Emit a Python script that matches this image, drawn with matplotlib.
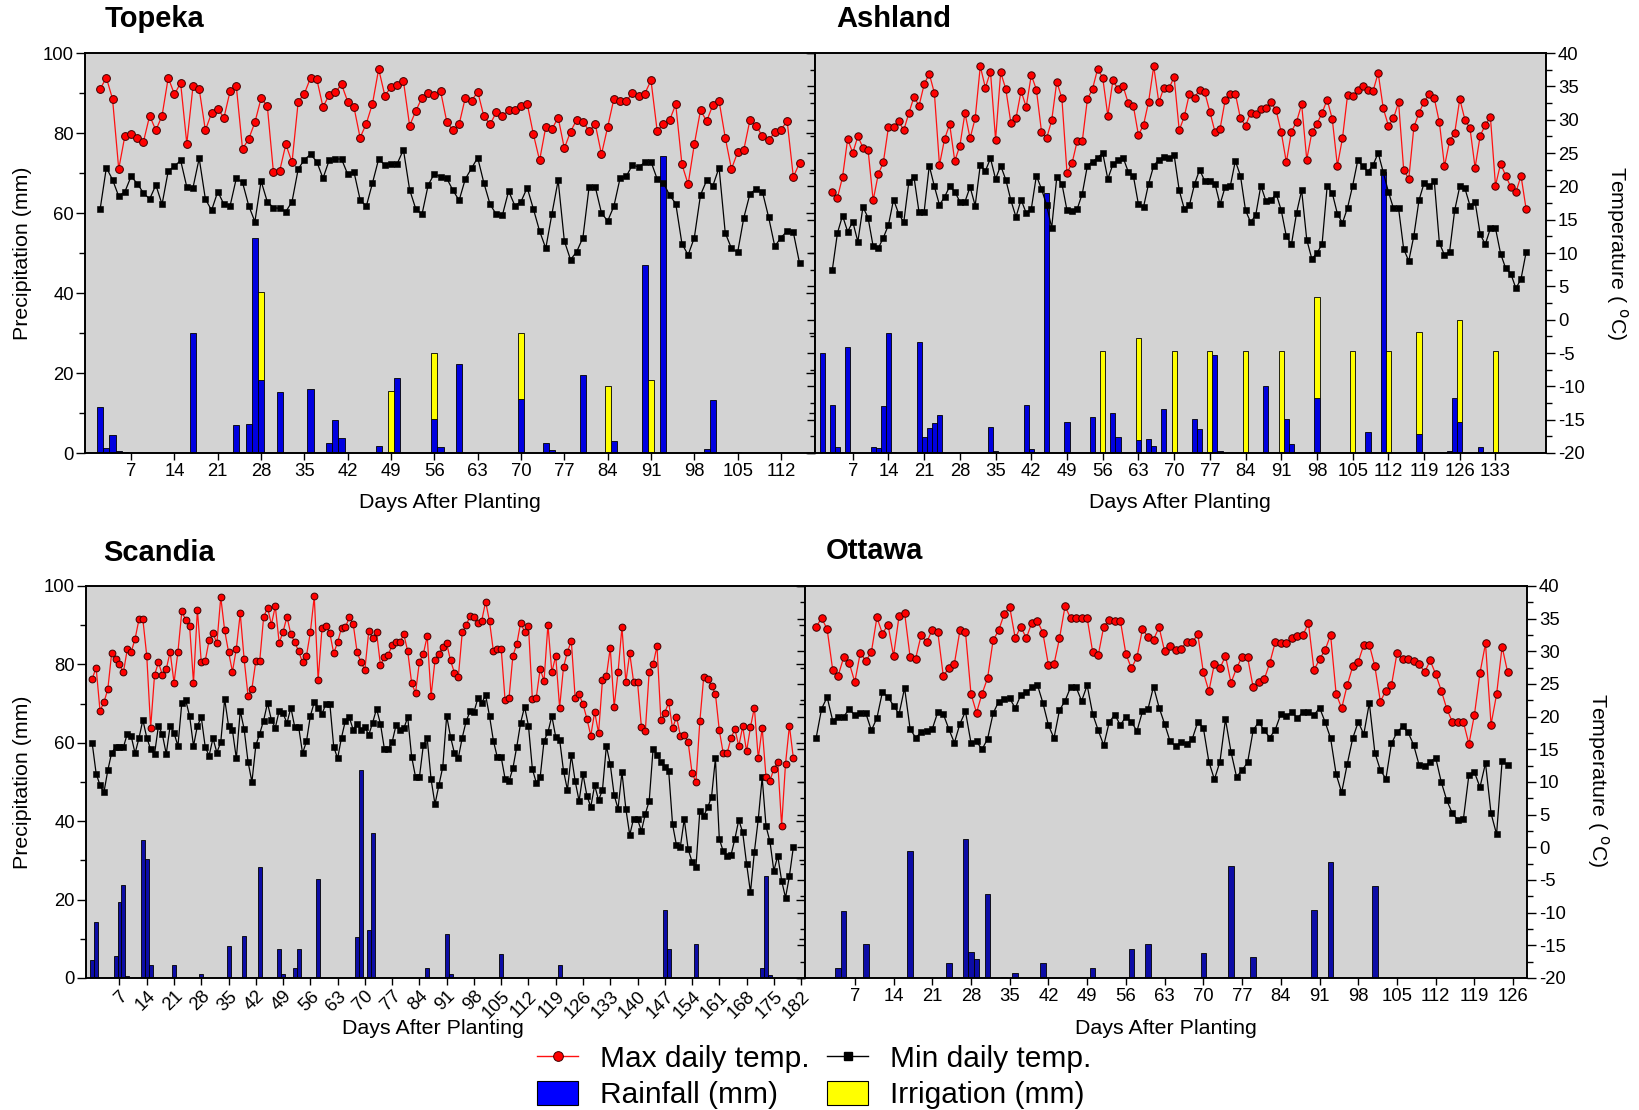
import numpy as np
import matplotlib
matplotlib.use("Agg")
import matplotlib.pyplot as plt
from matplotlib.lines import Line2D
from matplotlib.patches import Patch
from matplotlib.ticker import MultipleLocator

plt.rcParams['font.family'] = ['Liberation Sans', 'DejaVu Sans']
plt.rcParams['axes.unicode_minus'] = False

# ---------------- Topeka ----------------
topeka_days = np.arange(2, 116)
topeka_tmax = [34.6, 36.3, 33.1, 22.6, 27.6, 27.8, 27.2, 26.7, 30.6, 28.4, 30.6, 36.3, 33.8, 35.5, 26.4,
               35.0, 34.6, 28.4, 31.0, 31.6, 30.3, 34.3, 35.0, 25.6, 27.1, 29.6, 33.2, 32.1, 22.1, 22.3,
               26.3, 23.6, 32.7, 33.9, 36.3, 36.1, 31.9, 33.7, 34.1, 35.3, 32.7, 31.9, 27.3, 29.4, 32.4,
               37.6, 33.6, 34.9, 35.2, 35.8, 29.1, 31.3, 33.3, 34.0, 33.7, 34.3, 29.7, 28.4, 29.3, 33.3,
               32.8, 34.2, 30.5, 29.3, 31.1, 30.6, 31.4, 31.4, 32.0, 32.4, 27.8, 23.9, 28.9, 28.6, 30.3,
               25.7, 28.2, 30.0, 29.7, 28.3, 29.3, 24.8, 28.9, 33.1, 32.8, 32.8, 34.0, 33.6, 33.9, 35.9,
               28.3, 29.4, 29.9, 32.3, 23.3, 20.3, 26.3, 31.4, 29.8, 32.2, 32.8, 27.3, 22.6, 25.1, 25.5,
               30.0, 29.1, 27.5, 26.9, 28.1, 28.5, 29.8, 21.4, 23.5]
topeka_tmin = [16.6, 22.8, 21.0, 18.5, 19.2, 21.5, 20.4, 19.0, 18.1, 20.2, 17.3, 22.3, 23.0, 23.9, 19.9,
               19.8, 24.2, 18.1, 16.4, 19.2, 17.3, 17.1, 21.2, 20.6, 17.1, 14.7, 20.8, 17.7, 16.8, 16.7,
               16.2, 17.7, 22.6, 24.0, 24.8, 23.7, 21.2, 23.9, 24.1, 24.1, 21.8, 22.2, 18.0, 17.0, 20.5,
               24.1, 23.2, 23.4, 23.4, 25.5, 19.5, 16.6, 15.8, 20.2, 21.9, 21.4, 21.2, 19.4, 17.9, 21.1,
               22.7, 24.3, 20.5, 17.3, 15.8, 15.7, 19.3, 17.1, 17.7, 19.8, 16.6, 13.3, 10.7, 15.9, 20.9,
               11.8, 9.0, 10.2, 12.3, 19.9, 19.9, 16.0, 14.8, 17.0, 21.2, 21.5, 23.2, 22.9, 23.6, 23.7,
               21.1, 20.5, 18.7, 17.4, 11.4, 9.7, 12.3, 18.7, 20.9, 20.1, 22.8, 13.0, 10.7, 10.1, 15.3,
               18.9, 19.6, 19.2, 15.4, 11.0, 12.3, 13.3, 13.1, 8.5]
topeka_rain_day = [2, 3, 4, 5, 6, 17, 24, 26, 27, 28, 31, 36, 39, 40, 41, 47, 50, 56, 57, 60,
                   70, 74, 75, 80, 85, 90, 93, 100, 101, 105]
topeka_rain = [11.6, 1.2, 4.5, 0.6, 0.3, 29.9, 7.0, 7.3, 53.8, 18.3, 15.2, 16.0, 2.6, 8.3, 3.8, 1.8,
               18.8, 8.4, 1.5, 22.2, 13.4, 2.6, 0.7, 19.5, 3.0, 47.0, 74.3, 1.1, 13.3, 0.3]
topeka_irr_day = [28, 49, 56, 70, 84, 91]
topeka_irr = [22.0, 15.5, 16.7, 16.7, 16.8, 18.3]

# ---------------- Ashland ----------------
ashland_days = np.arange(3, 140)
ashland_tmax = [19.1, 18.3, 21.4, 27.1, 25.0, 27.5, 25.8, 25.5, 17.9, 21.8, 23.6, 28.9, 28.9, 29.8, 28.4,
                31.0, 33.4, 32.1, 35.3, 36.9, 34.0, 23.2, 27.1, 29.3, 23.8, 26.1, 31.0, 27.2, 30.2, 38.0,
                34.8, 37.2, 27.0, 37.1, 34.6, 29.5, 30.2, 34.3, 31.9, 36.7, 34.5, 28.2, 27.2, 29.9, 35.7,
                33.2, 22.0, 23.5, 26.8, 26.8, 33.1, 34.6, 37.6, 36.3, 30.6, 35.9, 34.6, 35.0, 32.5, 32.1,
                27.7, 29.2, 32.7, 38.0, 32.6, 34.8, 34.7, 36.4, 28.4, 30.5, 33.9, 33.3, 34.5, 34.1, 31.2,
                28.2, 28.6, 32.9, 33.9, 33.9, 30.2, 29.1, 31.0, 30.9, 31.6, 31.7, 32.6, 31.4, 28.1, 23.6,
                28.2, 29.7, 32.3, 24.0, 28.1, 29.4, 31.0, 33.0, 30.1, 23.1, 27.2, 33.7, 33.5, 34.5, 35.1,
                34.5, 34.3, 37.0, 31.7, 29.1, 30.2, 32.6, 22.5, 21.1, 28.9, 31.0, 32.7, 33.8, 33.2, 29.6,
                23.0, 26.8, 28.0, 33.1, 30.0, 28.7, 22.8, 27.6, 29.2, 30.4, 20.1, 23.4, 21.6, 19.9, 19.1,
                21.6, 16.6]
ashland_tmin = [7.5, 13.0, 15.6, 13.2, 14.7, 11.7, 16.9, 15.3, 11.0, 10.7, 12.3, 14.2, 18.0, 15.9, 14.6,
                20.7, 21.4, 16.1, 16.2, 23.1, 20.0, 17.2, 18.4, 20.0, 19.2, 17.7, 17.7, 19.9, 17.1, 23.2,
                22.3, 24.2, 21.1, 23.1, 21.0, 17.9, 15.4, 18.0, 16.0, 16.6, 21.6, 19.6, 17.2, 13.8, 21.4,
                20.4, 16.4, 16.3, 16.6, 18.9, 23.1, 23.7, 24.3, 25.0, 21.1, 23.3, 23.9, 24.3, 22.2, 21.6,
                17.3, 16.9, 20.4, 23.1, 24.0, 24.4, 24.2, 24.7, 19.4, 16.6, 17.2, 20.3, 22.5, 20.8, 20.8,
                20.4, 17.3, 19.9, 20.0, 23.8, 21.6, 16.4, 14.6, 15.7, 20.1, 17.8, 17.9, 18.9, 16.4, 12.5,
                11.3, 16.0, 19.4, 12.0, 9.1, 10.0, 11.3, 20.0, 19.0, 15.9, 14.5, 16.8, 20.1, 23.9, 23.0,
                22.2, 23.2, 25.0, 22.1, 19.2, 16.7, 16.7, 10.6, 8.8, 12.6, 17.9, 20.5, 20.0, 20.8, 11.5,
                9.7, 10.2, 16.4, 20.0, 19.7, 17.1, 17.7, 12.8, 11.3, 13.7, 13.7, 9.9, 7.7, 6.9, 4.7,
                6.1, 10.1]
ashland_rain_day = [1, 2, 3, 4, 6, 7, 11, 12, 13, 14, 15, 20, 21, 22, 23, 24, 34, 35, 41, 42,
                    45, 49, 54, 58, 59, 63, 65, 66, 68, 74, 75, 78, 79, 88, 92, 93, 97, 98, 108, 111,
                    118, 124, 125, 126, 130]
ashland_rain = [24.9, 0.3, 12.0, 1.4, 26.4, 0.3, 1.4, 1.3, 11.8, 29.9, 0.3, 27.7, 4.1, 6.2, 7.6, 9.4,
                6.6, 0.6, 12.0, 1.1, 65.1, 7.7, 9.0, 9.9, 4.1, 3.3, 3.6, 1.8, 10.9, 8.5, 6.0, 24.5,
                0.5, 16.8, 8.5, 2.3, 0.2, 13.7, 5.3, 70.3, 4.8, 0.6, 13.7, 7.8, 1.4]
ashland_irr_day = [56, 63, 70, 77, 84, 91, 98, 105, 112, 118, 126, 133]
ashland_irr = [25.4, 25.4, 25.4, 25.4, 25.4, 25.4, 25.4, 25.4, 25.4, 25.4, 25.4, 25.4]

# ---------------- Scandia ----------------
scandia_days = np.arange(0, 181)
scandia_tmax = [25.8, 27.5, 20.9, 22.2, 24.2, 29.8, 28.9, 28.0, 26.8, 30.3, 29.9, 31.9, 34.9, 34.9, 29.3,
                18.3, 26.4, 28.3, 26.4, 27.3, 29.9, 25.2, 29.9, 36.1, 34.8, 33.9, 25.2, 36.4, 28.3, 28.5,
                31.7, 32.8, 31.2, 38.3, 33.2, 29.9, 26.9, 30.4, 35.8, 28.8, 23.2, 24.3, 28.5, 28.5, 35.2,
                36.7, 34.1, 36.9, 31.3, 33.0, 35.3, 32.6, 31.4, 30.0, 28.3, 29.3, 32.9, 38.4, 25.6, 33.6,
                33.9, 32.8, 29.7, 31.4, 33.6, 33.7, 35.2, 34.2, 29.9, 28.3, 27.2, 33.1, 32.0, 32.9, 27.9,
                29.1, 29.5, 30.9, 31.4, 31.4, 32.6, 30.0, 25.2, 23.6, 28.4, 29.6, 32.3, 23.2, 28.6, 29.6,
                30.7, 31.2, 28.6, 26.7, 26.1, 32.9, 34.0, 35.4, 35.3, 34.3, 34.7, 37.6, 34.6, 30.0, 30.4,
                30.4, 22.5, 22.8, 29.3, 31.1, 34.4, 33.0, 33.9, 22.7, 22.9, 27.3, 25.5, 34.1, 26.8, 29.3,
                21.4, 27.6, 29.9, 31.6, 22.8, 23.4, 21.9, 19.7, 17.1, 20.7, 17.5, 25.6, 26.2, 30.5, 21.5,
                26.8, 33.7, 25.3, 29.7, 25.3, 25.3, 18.4, 17.8, 26.9, 28.0, 30.8, 19.5, 20.6, 22.2, 18.2,
                20.0, 17.1, 17.2, 16.1, 11.4, 10.0, 19.3, 26.1, 25.8, 24.7, 23.5, 17.9, 14.4, 14.4, 16.7,
                18.1, 15.5, 18.5, 14.7, 18.4, 21.4, 13.6, 18.3, 10.7, 10.2, 12.0, 13.1, 3.3, 12.8, 18.6,
                13.7]
scandia_tmin = [15.9, 11.3, 9.5, 8.4, 11.8, 14.5, 15.3, 15.3, 15.3, 17.4, 17.0, 14.4, 16.7, 19.5, 16.8,
                15.0, 14.3, 18.6, 17.3, 14.3, 18.6, 17.5, 15.5, 22.1, 22.5, 20.1, 15.5, 18.6, 19.9, 15.4,
                14.0, 16.7, 14.5, 16.1, 22.7, 18.6, 17.9, 13.6, 20.9, 18.1, 13.1, 10.0, 15.6, 17.4, 19.4,
                22.1, 19.5, 18.3, 20.9, 20.5, 19.0, 21.4, 18.4, 18.4, 14.4, 16.2, 20.1, 22.2, 21.4, 20.4,
                22.0, 22.0, 15.4, 13.6, 16.8, 19.4, 19.9, 18.0, 18.9, 18.0, 18.4, 17.2, 19.1, 21.2, 18.9,
                15.1, 15.1, 16.1, 18.7, 17.9, 18.2, 19.9, 13.9, 10.8, 10.7, 15.6, 16.7, 10.4, 6.6, 9.5,
                12.3, 20.1, 16.9, 14.4, 13.7, 16.8, 19.3, 20.8, 20.7, 22.8, 22.1, 23.3, 20.1, 16.3, 13.8,
                13.8, 10.5, 10.1, 12.1, 15.4, 19.1, 21.5, 18.6, 12.0, 9.9, 10.7, 16.3, 17.6, 20.1, 16.9,
                16.5, 11.7, 8.8, 14.1, 10.1, 7.1, 11.2, 7.9, 6.2, 9.5, 7.2, 8.8, 15.5, 12.7, 8.0,
                5.9, 11.5, 5.9, 1.9, 4.4, 4.3, 2.5, 5.1, 7.1, 15.1, 14.1, 13.1, 12.3, 11.7, 3.5,
                0.3, 0.1, 4.3, -0.3, -2.2, -3.0, 5.6, 4.8, 6.1, 7.7, 13.6, 1.3, -0.6, -1.3, -1.2,
                1.3, 4.2, 2.3, -2.5, -6.9, -0.7, 4.3, 10.7, 3.2, 0.9, -3.6, -1.3, -5.1, -7.7, -4.4,
                0.0]
scandia_rain_day = [0, 1, 6, 7, 8, 9, 13, 14, 15, 21, 28, 35, 39, 43, 48, 49, 52, 53, 58, 68,
                    69, 71, 72, 86, 91, 92, 105, 120, 147, 148, 155, 172, 173, 174]
scandia_rain = [4.7, 14.4, 5.5, 19.4, 23.8, 0.5, 35.1, 30.3, 3.4, 3.2, 1.1, 8.1, 10.8, 28.3, 7.4, 1.1,
                2.5, 7.4, 25.2, 10.5, 53.0, 12.2, 37.1, 2.5, 11.1, 1.0, 6.0, 3.3, 17.3, 7.4, 8.7, 2.5,
                26.1, 0.8]
scandia_irr_day = []
scandia_irr = []

# ---------------- Ottawa ----------------
ottawa_days = np.arange(0, 126)
ottawa_tmax = [33.7, 35.1, 33.4, 27.2, 26.3, 29.1, 28.2, 25.3, 29.8, 28.5, 29.9, 35.2, 32.7, 34.1, 29.3,
               35.4, 35.9, 29.1, 28.9, 32.5, 31.4, 33.3, 33.0, 26.2, 27.5, 28.1, 33.2, 33.0, 23.5, 20.6,
               23.5, 25.9, 31.7, 33.2, 35.7, 36.8, 32.0, 33.8, 32.0, 34.4, 34.7, 32.8, 27.9, 28.0, 32.0,
               36.9, 35.1, 35.1, 35.1, 35.1, 29.9, 29.4, 33.8, 34.8, 34.6, 34.7, 29.6, 27.4, 29.1, 33.4,
               32.2, 31.8, 33.7, 30.0, 30.8, 30.2, 30.4, 31.5, 31.4, 32.6, 26.8, 23.9, 28.1, 27.4, 29.3,
               25.2, 27.4, 29.2, 29.1, 24.5, 25.3, 25.7, 28.2, 31.4, 31.2, 31.2, 32.0, 32.4, 32.5, 34.3,
               27.1, 28.8, 30.2, 32.5, 23.5, 21.3, 24.8, 27.7, 28.4, 31.0, 31.0, 27.7, 22.3, 24.0, 24.8,
               29.7, 28.8, 28.8, 28.5, 28.1, 26.8, 28.6, 26.5, 24.0, 21.2, 19.2, 19.2, 19.2, 15.8, 20.3,
               26.7, 31.2, 18.8, 23.4, 30.7, 26.8]
ottawa_tmin = [16.7, 21.2, 23.0, 19.4, 20.0, 20.0, 21.2, 20.2, 20.6, 20.5, 17.9, 19.8, 23.8, 23.0, 21.7,
               20.4, 24.4, 18.1, 16.8, 17.6, 17.8, 18.1, 20.7, 20.4, 18.1, 16.0, 18.9, 20.8, 16.0, 16.2,
               15.0, 16.6, 20.5, 22.3, 22.7, 22.8, 21.3, 23.3, 23.7, 24.5, 24.9, 22.1, 18.7, 16.7, 21.0,
               22.4, 24.5, 24.5, 22.4, 24.8, 20.4, 17.9, 15.6, 19.2, 20.3, 18.7, 20.0, 19.2, 17.8, 20.8,
               21.2, 24.6, 21.4, 18.9, 16.2, 15.5, 16.1, 15.8, 16.6, 19.2, 18.3, 13.1, 10.4, 13.1, 19.6,
               14.6, 10.8, 11.8, 13.0, 17.9, 19.2, 17.9, 16.8, 18.0, 20.4, 20.1, 20.7, 19.8, 20.7, 20.7,
               20.2, 21.4, 19.2, 16.7, 11.2, 8.4, 12.7, 16.7, 19.2, 17.3, 22.1, 14.5, 11.8, 10.5, 15.9,
               17.6, 18.5, 17.6, 15.7, 12.6, 12.4, 13.1, 13.7, 10.0, 7.2, 5.2, 4.2, 4.3, 11.1, 11.5,
               9.2, 12.9, 5.2, 2.0, 13.2, 12.6]
ottawa_rain_day = [4, 5, 9, 17, 24, 27, 28, 29, 31, 34, 36, 41, 50, 57, 60, 70, 74, 75, 79, 80,
                   90, 93, 101]
ottawa_rain = [2.5, 17.0, 8.7, 32.4, 3.7, 35.5, 6.7, 4.8, 21.5, 0.2, 1.4, 3.7, 2.5, 7.3, 8.8, 6.3,
               0.2, 28.6, 5.4, 0.2, 17.3, 29.6, 23.5]
ottawa_irr_day = []
ottawa_irr = []

W, H = 1639, 1110
fig = plt.figure(figsize=(W / 100, H / 100), dpi=100)


def frac(x0, y0, x1, y1):
    # pixel box (top-left origin) -> figure fraction rect
    return [x0 / W, 1 - y1 / H, (x1 - x0) / W, (y1 - y0) / H]


def panel(rect, xlim, xmax_tick, days, tmax, tmin, rain_day, rain, irr_day, irr,
          side, bar_color, ms, rotate=False):
    ax = fig.add_axes(rect)
    ax.set_facecolor('#d3d3d3')
    ax.bar(rain_day, rain, width=1.0, color=bar_color, edgecolor='black', linewidth=0.6, zorder=2)
    if irr_day:
        lookup = dict(zip(rain_day, rain))
        bottoms = [lookup.get(d, 0.0) for d in irr_day]
        ax.bar(irr_day, irr, width=1.0, bottom=bottoms, color='#ffff00', edgecolor='black',
               linewidth=0.6, zorder=2)
    ax.set_xlim(*xlim)
    ax.set_ylim(0, 100)
    ax.yaxis.set_major_locator(MultipleLocator(20))
    ax.yaxis.set_minor_locator(MultipleLocator(10))
    ax.set_xticks(np.arange(7, xmax_tick + 1, 7))
    ax.tick_params(axis='x', direction='out', length=5, width=1, labelsize=13.3, pad=2)
    if rotate:
        for lab in ax.get_xticklabels():
            lab.set_rotation(45)
            lab.set_ha('right')
            lab.set_rotation_mode('anchor')
    ax.tick_params(axis='y', which='major', direction='out', length=6.5, width=1, labelsize=13.3, pad=1.5)
    ax.tick_params(axis='y', which='minor', direction='out', length=4, width=1)
    if side == 'right':
        ax.tick_params(axis='y', labelleft=False)
    for s in ax.spines.values():
        s.set_linewidth(1.2)

    ax2 = ax.twinx()
    ax2.plot(days, tmax, '-o', color='#ff1010', lw=0.9, ms=ms[0], mfc='#ff0000', mec='#400000',
             mew=0.7, zorder=4)
    ax2.plot(days, tmin, '-s', color='black', lw=0.9, ms=ms[1], mfc='black', mec='black',
             mew=0.4, zorder=3)
    ax2.set_ylim(-20, 40)
    ax2.yaxis.set_major_locator(MultipleLocator(5))
    ax2.yaxis.set_minor_locator(MultipleLocator(2.5))
    if side == 'right':
        ax2.tick_params(axis='y', which='major', direction='out', length=6.5, width=1,
                        labelsize=13.3, pad=2)
        ax2.tick_params(axis='y', which='minor', direction='out', length=4, width=1)
    else:
        ax2.tick_params(axis='y', which='major', direction='in', length=6, width=1, labelright=False)
        ax2.tick_params(axis='y', which='minor', direction='in', length=3.5, width=1)
    for s in ax2.spines.values():
        s.set_linewidth(1.2)
    return ax, ax2


top_blue = '#0000e0'
bot_blue = '#0c0ca6'

panel(frac(85, 53, 815, 453), (-0.45, 117.5), 112, topeka_days, topeka_tmax, topeka_tmin,
      topeka_rain_day, topeka_rain, topeka_irr_day, topeka_irr, 'left', top_blue, (5.6, 4.9))
panel(frac(815, 53, 1546, 453), (-0.4, 142.9), 133, ashland_days, ashland_tmax, ashland_tmin,
      ashland_rain_day, ashland_rain, ashland_irr_day, ashland_irr, 'right', top_blue, (5.3, 4.7))
panel(frac(86, 586, 805, 978), (-1.6, 183.0), 182, scandia_days, scandia_tmax, scandia_tmin,
      scandia_rain_day, scandia_rain, scandia_irr_day, scandia_irr, 'left', bot_blue, (4.9, 4.3),
      rotate=True)
panel(frac(805, 586, 1527, 978), (-2.0, 128.5), 126, ottawa_days, ottawa_tmax, ottawa_tmin,
      ottawa_rain_day, ottawa_rain, ottawa_irr_day, ottawa_irr, 'right', bot_blue, (5.4, 4.7))

# site names
for name, x, y in [('Topeka', 105, 19), ('Ashland', 836, 19), ('Scandia', 103, 553), ('Ottawa', 826, 551)]:
    fig.text(x / W, 1 - y / H, name, fontsize=21, fontweight='bold', ha='left', va='center')

# axis titles
for x, y in [(450, 503), (1180, 503), (433, 1028), (1166, 1028)]:
    fig.text(x / W, 1 - y / H, 'Days After Planting', fontsize=15.4, ha='center', va='center')
for y in [253, 782]:
    fig.text(23 / W, 1 - y / H, 'Precipitation (mm)', fontsize=15.4, rotation=90,
             ha='center', va='center')
for x, y in [(1617, 253), (1598, 780)]:
    fig.text(x / W, 1 - y / H, r'Temperature ( $^{\mathrm{o}}$C)', fontsize=15.4, rotation=270,
             ha='center', va='center')

handles = [
    Line2D([], [], color='#ff1010', lw=1.0, marker='o', ms=7, mfc='#ff0000', mec='#400000', mew=0.7),
    Patch(facecolor='#0000ff', edgecolor='black', linewidth=0.8),
    Line2D([], [], color='black', lw=1.0, marker='s', ms=6, mfc='black', mec='black'),
    Patch(facecolor='#ffff00', edgecolor='black', linewidth=0.8),
]
labels = ['Max daily temp.', 'Rainfall (mm)', 'Min daily temp.', 'Irrigation (mm)']
fig.legend(handles, labels, ncol=2, loc='center', bbox_to_anchor=(814.5 / W, 1 - 1077 / H),
           frameon=False, fontsize=21.5, handlelength=1.38, handleheight=0.85, handletextpad=0.74,
           columnspacing=0.57, labelspacing=0.28, borderpad=0.0)

fig.savefig('out.png', dpi=100)
